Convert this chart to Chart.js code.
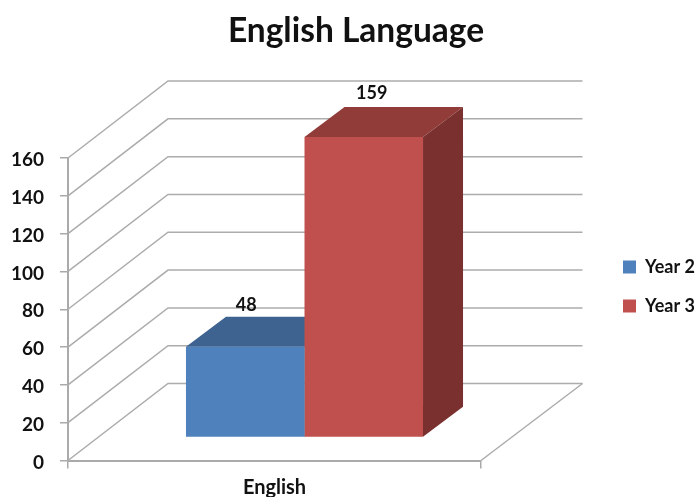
<!DOCTYPE html>
<html><head><meta charset="utf-8">
<style>html,body{margin:0;padding:0;background:#fff}#w{width:697px;height:497px}</style>
<script src="https://cdn.jsdelivr.net/npm/chart.js@4/dist/chart.umd.min.js"></script>
</head><body><div id="w"><canvas id="c" width="697" height="497"></canvas></div>
<script>
const categories = ['English'];
const seriesNames = ['Year 2', 'Year 3'];
const year2 = [48];
const year3 = [159];
const yTicks = [0, 20, 40, 60, 80, 100, 120, 140, 160];
const titleText = 'English Language';

const front = ['#4F81BD', '#C0504D'];
const topFace = ['#3E6390', '#923C3A'];
const sideFace = ['#345479', '#7A302E'];
const FONT = 'Lato';
const wall = {dx: 100, dy: -77, extra: 1.5};
const inset = {dx: 30, dy: -23};
const depth = {dx: 40, dy: -30};
const labelNudge = [{dx: -39, dy: -12}, {dx: -32, dy: -14}];

function poly(ctx, pts, fill) {
  ctx.beginPath();
  pts.forEach((p, i) => i ? ctx.lineTo(p[0], p[1]) : ctx.moveTo(p[0], p[1]));
  ctx.closePath();
  ctx.fillStyle = fill;
  ctx.fill();
}

const threeD = {
  id: 'threeD',
  beforeLayout(chart) {
    const l = chart.legend;
    if (l && !l.__wrapped) {
      const f = l.fit.bind(l);
      l.fit = () => { f(); l.width = 216; };
      l.__wrapped = true;
    }
  },
  afterLayout(chart) {
    const l = chart.legend;
    const w = l.width, h = l.height;
    l.left = 602; l.right = 602 + w; l.top = 237; l.bottom = 237 + h;
    const t = chart.titleBlock;
    t.left = 15; t.right = 697;
  },
  beforeDatasetsDraw(chart) {
    const ctx = chart.ctx, y = chart.scales.y, x = chart.scales.x;
    const x0 = x.left, x1 = x.right;
    ctx.save();
    ctx.strokeStyle = '#ACACAC';
    ctx.lineWidth = 1.5;
    y.ticks.forEach(t => {
      const py = y.getPixelForValue(t.value);
      ctx.beginPath();
      ctx.moveTo(x0, py);
      ctx.lineTo(x0 + wall.dx, py + wall.dy);
      ctx.lineTo(x1 + wall.dx + wall.extra, py + wall.dy);
      ctx.stroke();
    });
    const b = y.getPixelForValue(0);
    ctx.beginPath();
    ctx.moveTo(x1 + wall.dx + wall.extra, b + wall.dy);
    ctx.lineTo(x1, b);
    ctx.stroke();
    ctx.restore();

    ctx.save();
    ctx.translate(inset.dx, inset.dy);
    chart.getSortedVisibleDatasetMetas().forEach((m, i) => {
      m.data.forEach(bar => {
        const p = bar.getProps(['x', 'y', 'base', 'width'], false);
        const l = p.x - p.width / 2, r = p.x + p.width / 2;
        poly(ctx, [[l, p.y], [r, p.y], [r + depth.dx, p.y + depth.dy], [l + depth.dx, p.y + depth.dy]], topFace[i]);
        poly(ctx, [[r, p.y], [r + depth.dx, p.y + depth.dy], [r + depth.dx, p.base + depth.dy], [r, p.base]], sideFace[i]);
      });
    });
    ctx.restore();

    ctx.save();
    ctx.translate(inset.dx, inset.dy);
  },
  afterDatasetsDraw(chart) {
    const ctx = chart.ctx;
    ctx.restore();
    ctx.save();
    ctx.font = 'bold 18px ' + FONT;
    ctx.fillStyle = '#111';
    ctx.textAlign = 'center';
    ctx.textBaseline = 'middle';
    chart.getSortedVisibleDatasetMetas().forEach((m, i) => {
      m.data.forEach((bar, j) => {
        const p = bar.getProps(['x', 'y', 'width'], false);
        const v = chart.data.datasets[i].data[j];
        ctx.fillText(String(v),
          p.x + inset.dx + depth.dx + labelNudge[i].dx,
          p.y + inset.dy + depth.dy + labelNudge[i].dy);
      });
    });
    ctx.restore();
  }
};

new Chart(document.getElementById('c'), {
  type: 'bar',
  plugins: [threeD],
  data: {
    labels: categories,
    datasets: [
      {label: seriesNames[0], data: year2, backgroundColor: front[0], borderWidth: 0},
      {label: seriesNames[1], data: year3, backgroundColor: front[1], borderWidth: 0}
    ]
  },
  options: {
    responsive: false,
    animation: false,
    events: [],
    layout: {padding: 0},
    categoryPercentage: 0.574,
    barPercentage: 1,
    plugins: {
      title: {
        display: true, text: titleText, color: '#111',
        font: {family: FONT, size: 33.5, weight: 'bold', lineHeight: 1.2},
        padding: {top: 11, bottom: 106.8}
      },
      legend: {
        position: 'right', align: 'start',
        labels: {
          boxWidth: 13, boxHeight: 13, padding: 21, color: '#111',
          font: {family: FONT, size: 18, weight: 'bold'}
        }
      },
      tooltip: {enabled: false}
    },
    scales: {
      x: {
        afterFit(s) { s.height = 36.5; },
        border: {display: true, color: '#AAAAAA', width: 2},
        grid: {offset: true, drawOnChartArea: false, drawTicks: true, tickLength: 8, color: '#AAAAAA', lineWidth: 1.5},
        ticks: {color: '#111', padding: 7, font: {family: FONT, size: 20, weight: 'bold'}}
      },
      y: {
        min: 0, max: 160,
        afterFit(s) { s.width = 68; },
        afterBuildTicks(s) { s.ticks = yTicks.map(v => ({value: v})); },
        border: {display: true, color: '#AAAAAA', width: 2},
        grid: {drawOnChartArea: false, drawTicks: true, tickLength: 8, color: '#AAAAAA', lineWidth: 1.5},
        ticks: {color: '#111', padding: 16, labelOffset: 2, font: {family: FONT, size: 19, weight: 'bold'}}
      }
    }
  }
});
</script></body></html>
